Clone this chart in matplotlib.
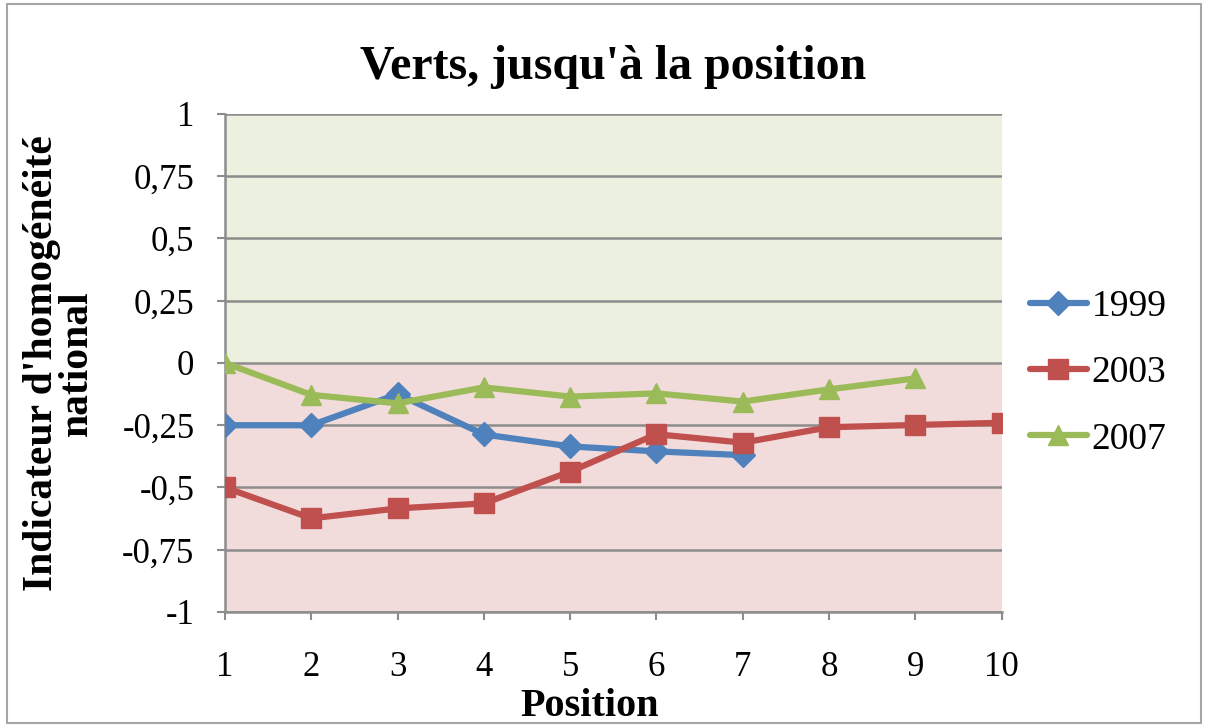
import numpy as np
import matplotlib.pyplot as plt
from matplotlib.patches import Rectangle

# data
positions = [1, 2, 3, 4, 5, 6, 7, 8, 9, 10]
v1999 = [-0.25, -0.25, -0.125, -0.287, -0.335, -0.355, -0.37]
v2003 = [-0.5, -0.624, -0.584, -0.564, -0.436, -0.286, -0.32, -0.258, -0.249, -0.24]
v2007 = [0.0, -0.128, -0.162, -0.098, -0.135, -0.122, -0.155, -0.106, -0.062]
yticks = [1, 0.75, 0.5, 0.25, 0, -0.25, -0.5, -0.75, -1]
ytick_labels = ['1', '0,75', '0,5', '0,25', '0', '-0,25', '-0,5', '-0,75', '-1']

plt.rcParams['font.family'] = ['Liberation Serif', 'DejaVu Serif']

fig = plt.figure(figsize=(12.06, 7.27), dpi=100)
ax = fig.add_axes([0.1866, 0.1582, 0.6439, 0.685])

ax.axhspan(0, 1, color='#EBF1DE', zorder=0)
ax.axhspan(-1, 0, color='#F2DCDB', zorder=0)
for t in yticks:
    ax.axhline(t, color='#8C8C8C', lw=1.8, zorder=1)

ax.plot(positions[:len(v1999)], v1999, color='#4F81BD', lw=4.5, marker='D',
        ms=12, label='1999', zorder=3, solid_capstyle='round')
ax.plot(positions[:len(v2003)], v2003, color='#C0504D', lw=4.5, marker='s',
        ms=14, label='2003', zorder=3, solid_capstyle='round')
ax.plot(positions[:len(v2007)], v2007, color='#9BBB59', lw=4.5, marker='^',
        ms=15, label='2007', zorder=4, solid_capstyle='round')

ax.set_xlim(1, 10)
ax.set_ylim(-1, 1)
ax.set_xticks(positions)
ax.set_yticks(yticks)
ax.set_yticklabels(ytick_labels)
ax.tick_params(axis='both', labelsize=25, colors='#8C8C8C', labelcolor='black',
               length=6, width=1.5)
ax.tick_params(axis='y', pad=16)
ax.tick_params(axis='x', pad=22)
for s in ['top', 'right']:
    ax.spines[s].set_visible(False)
for s in ['left', 'bottom']:
    ax.spines[s].set_color('#8C8C8C')
    ax.spines[s].set_linewidth(1.8)

ax.set_title("Verts, jusqu'à la position", fontsize=34.5, fontweight='bold', pad=25)
ax.set_xlabel('Position', fontsize=29, fontweight='bold', labelpad=0)
ax.xaxis.set_label_coords(0.47, -0.153)
ax.set_ylabel("Indicateur d'homogénéité\nnational", fontsize=30, fontweight='bold',
              labelpad=19, linespacing=0.9)

leg = ax.legend(loc='center left', bbox_to_anchor=(1.037, 0.48), frameon=False,
                fontsize=27, handlelength=1.5, labelspacing=0.85, handletextpad=0.13,
                borderaxespad=0, borderpad=0)

fig.patches.append(Rectangle((0.006, 0.005), 0.99, 0.99, transform=fig.transFigure,
                             fill=False, edgecolor='#A6A6A6', lw=1.5))

fig.savefig('out.png', dpi=100)
